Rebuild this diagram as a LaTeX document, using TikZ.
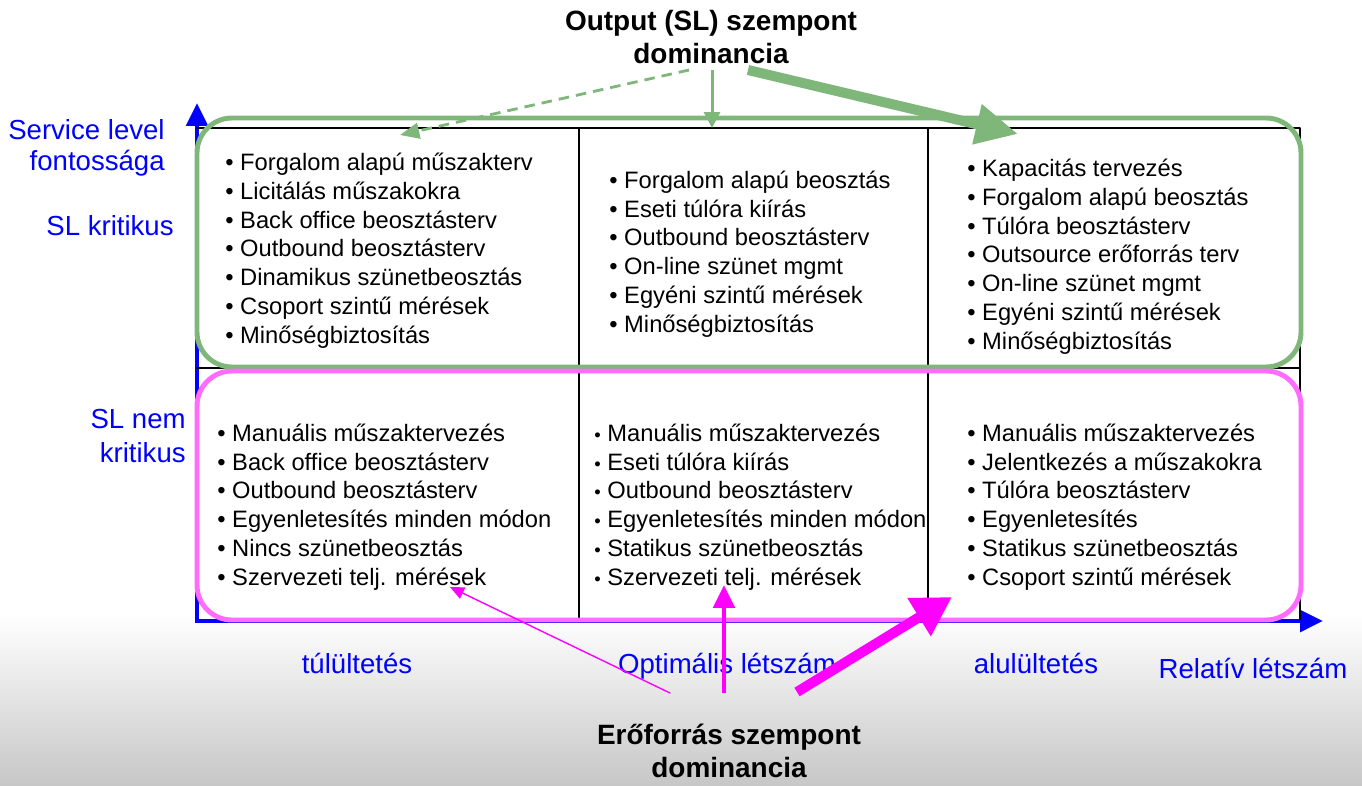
\documentclass[tikz,border=0pt]{standalone}
\usepackage{fontspec}
\setmainfont{Liberation Sans}
\usetikzlibrary{arrows.meta, positioning}

\definecolor{slgreen}{RGB}{127,183,122}
\definecolor{slpink}{RGB}{255,108,255}
\definecolor{resmag}{RGB}{255,0,255}
\definecolor{axblue}{RGB}{0,0,255}

\newcommand{\blt}{\textbullet\ }
\newcommand{\sblt}{{\fontsize{10.5}{10}\selectfont\textbullet}\ }

\begin{document}
\begin{tikzpicture}[
  x=0.02cm,
  y=-0.02cm,
  line cap=round,
  line join=round,
  cell/.style={
    anchor=base west,
    align=left,
    inner sep=0pt,
    font=\fontsize{13.5}{16.34}\selectfont
  },
  axislabel/.style={
    text=axblue,
    inner sep=0pt,
    font=\fontsize{15.7}{17.6}\selectfont
  },
  dominance/.style={
    anchor=base,
    align=center,
    inner sep=0pt,
    font=\fontsize{15.9}{18.5}\selectfont\bfseries
  },
  axis/.style={
    -{Triangle[length=13pt,width=12pt]},
    line width=2.8pt,
    line cap=butt,
    draw=axblue
  },
  gridline/.style={
    draw=black,
    line width=0.8pt
  },
  critbox/.style={
    draw=slgreen,
    line width=2.8pt,
    rounded corners=0.7cm
  },
  noncritbox/.style={
    draw=slpink,
    line width=2.8pt,
    rounded corners=0.7cm
  },
  glight/.style={
    -{Triangle[length=11pt,width=9pt]},
    line width=1.6pt,
    dash pattern=on 6pt off 4pt,
    line cap=butt,
    draw=slgreen
  },
  gmid/.style={
    -{Triangle[length=9pt,width=9pt]},
    line width=1.7pt,
    line cap=butt,
    draw=slgreen
  },
  gheavy/.style={
    -{Triangle[length=24pt,width=22pt]},
    line width=5.7pt,
    line cap=butt,
    draw=slgreen
  },
  mlight/.style={
    -{Triangle[length=8pt,width=7pt]},
    line width=0.8pt,
    draw=resmag
  },
  mmid/.style={
    -{Triangle[length=13pt,width=12pt]},
    line width=2.8pt,
    line cap=butt,
    draw=resmag
  },
  mheavy/.style={
    -{Triangle[length=22pt,width=24pt]},
    line width=5.7pt,
    line cap=butt,
    draw=resmag
  }
]

\useasboundingbox (0,0) rectangle (1362,785);

% background
\fill[white] (0,0) rectangle (1362,785);
\shade[top color=white, bottom color=black!22] (0,615) rectangle (1362,785);

% =========================================================
% Axes and the 2x3 grid
% =========================================================

\draw[axis] (197,622) -- (197,103);
\draw[axis] (195,621) -- (1323,621);

\draw[gridline] (197,128) -- (1300,128) -- (1300,620);
\draw[gridline] (197,368) -- (1300,368);
\draw[gridline] (579,128) -- (579,620);
\draw[gridline] (928,128) -- (928,620);

\draw[critbox] (197,118) rectangle (1301,367);
\draw[noncritbox] (197,371) rectangle (1301,620);

% ---------------- SL critical row ----------------
% (base = baseline of the last line)

\node[cell] (tl) at (225,343)
{\blt Forgalom alapú műszakterv\\
\blt Licitálás műszakokra\\
\blt Back office beosztásterv\\
\blt Outbound beosztásterv\\
\blt Dinamikus szünetbeosztás\\
\blt Csoport szintű mérések\\
\blt Minőségbiztosítás};

\node[cell] (tm) at (609,332)
{\blt Forgalom alapú beosztás\\
\blt Eseti túlóra kiírás\\
\blt Outbound beosztásterv\\
\blt On-line szünet mgmt\\
\blt Egyéni szintű mérések\\
\blt Minőségbiztosítás};

\node[cell] (tr) at (967,349)
{\blt Kapacitás tervezés\\
\blt Forgalom alapú beosztás\\
\blt Túlóra beosztásterv\\
\blt Outsource erőforrás terv\\
\blt On-line szünet mgmt\\
\blt Egyéni szintű mérések\\
\blt Minőségbiztosítás};

% ---------------- SL non-critical row ----------------

\node[cell] (bl) at (217,585)
{\blt Manuális műszaktervezés\\
\blt Back office beosztásterv\\
\blt Outbound beosztásterv\\
\blt Egyenletesítés minden módon\\
\blt Nincs szünetbeosztás\\
\blt Szervezeti telj. mérések};

\node[cell] (bm) at (594,585)
{\sblt Manuális műszaktervezés\\
\sblt Eseti túlóra kiírás\\
\sblt Outbound beosztásterv\\
\sblt Egyenletesítés minden módon\\
\sblt Statikus szünetbeosztás\\
\sblt Szervezeti telj. mérések};

\node[cell] (br) at (967,585)
{\blt Manuális műszaktervezés\\
\blt Jelentkezés a műszakokra\\
\blt Túlóra beosztásterv\\
\blt Egyenletesítés\\
\blt Statikus szünetbeosztás\\
\blt Csoport szintű mérések};

% =========================================================
% Axis labels
% =========================================================

\node[axislabel, anchor=base east, align=right] (slimp) at (165,170)
{Service level\\fontossága};
\node[axislabel, anchor=base east] (slcrit) at (174,235) {SL kritikus};
\node[axislabel, anchor=base east, align=right] (slnon) at (186,462)
{SL nem\\[1.7pt]kritikus};

\node[axislabel, anchor=base] (over) at (357,673) {túlültetés};
\node[axislabel, anchor=base] (optim) at (727,673) {Optimális létszám};
\node[axislabel, anchor=base] (under) at (1036,673) {alulültetés};
\node[axislabel, anchor=base] (relst) at (1253,678) {Relatív létszám};

% =========================================================
% Dominance arrows
% =========================================================

\node[dominance] (outdom) at (711,63) {Output (SL) szempont\\dominancia};
\node[dominance] (resdom) at (729,777) {Erőforrás szempont\\dominancia};

\coordinate (gdstart) at (689,70);
\coordinate (gdtip) at (400,135);
\coordinate (gvstart) at (712,70);
\coordinate (gvtip) at (712,128);
\coordinate (ghstart) at (748,70);
\coordinate (ghtip) at (1018,134);

\draw[glight] (gdstart) -- (gdtip);
\draw[gmid] (gvstart) -- (gvtip);
\draw[gheavy] (ghstart) -- (ghtip);

\coordinate (mlstart) at (670,693);
\coordinate (mltip) at (450,587);
\coordinate (mvstart) at (724,693);
\coordinate (mvtip) at (724,585);
\coordinate (mhstart) at (797,692);
\coordinate (mhtip) at (952,597);

\draw[mlight] (mlstart) -- (mltip);
\draw[mmid] (mvstart) -- (mvtip);
\draw[mheavy] (mhstart) -- (mhtip);

\end{tikzpicture}
\end{document}
